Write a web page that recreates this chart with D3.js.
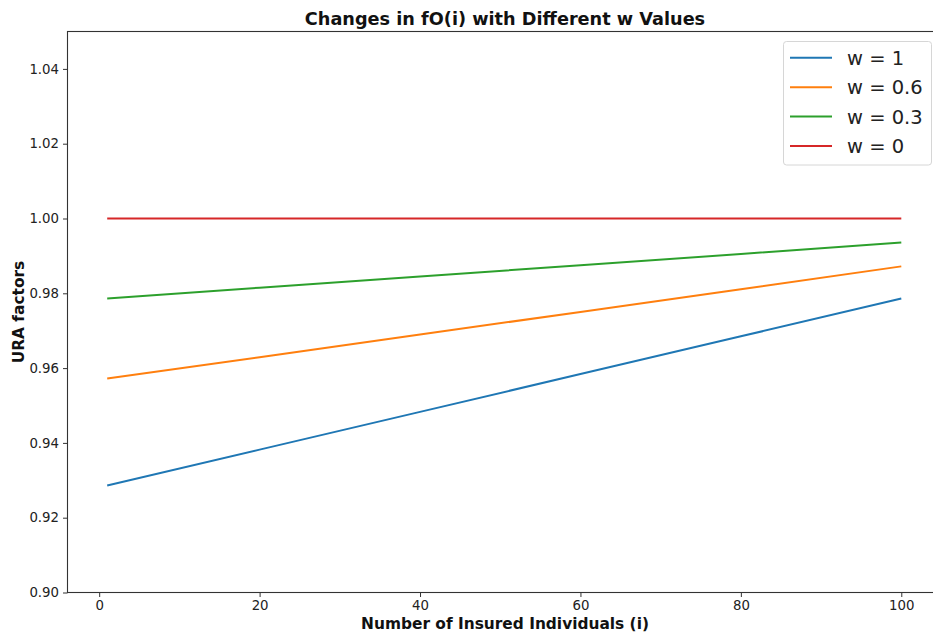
<!DOCTYPE html>
<html>
<head>
<meta charset="utf-8">
<script src="https://cdn.jsdelivr.net/npm/d3@7"></script>
<style>
  html, body { margin: 0; padding: 0; background: #fff; }
  svg { display: block; font-family: "DejaVu Sans", sans-serif; }
</style>
</head>
<body>
<svg id="chart" width="933" height="633"></svg>
<script>
// ---- data ----
const xValues = [1, 20, 40, 60, 80, 100];
const seriesNames = ["w = 1", "w = 0.6", "w = 0.3", "w = 0"];
const seriesW1  = [0.9286, 0.9382, 0.9483, 0.9584, 0.9685, 0.9786];
const seriesW06 = [0.9572, 0.9629, 0.9690, 0.9750, 0.9811, 0.9872];
const seriesW03 = [0.9786, 0.9815, 0.9845, 0.9875, 0.9905, 0.9936];
const seriesW0  = [1.0000, 1.0000, 1.0000, 1.0000, 1.0000, 1.0000];
const seriesColors = ["#1f77b4", "#ff7f0e", "#2ca02c", "#d62728"];
const xTicks = [0, 20, 40, 60, 80, 100];
const yTicks = [0.90, 0.92, 0.94, 0.96, 0.98, 1.00, 1.02, 1.04];
const xDomain = [-3.95, 104.95];
const yDomain = [0.90, 1.05];
const titleText = "Changes in fO(i) with Different w Values";
const xLabelText = "Number of Insured Individuals (i)";
const yLabelText = "URA factors";

const seriesValues = [seriesW1, seriesW06, seriesW03, seriesW0];

// ---- layout ----
const plot = { left: 67.5, top: 31.5, right: 941, bottom: 592.5 };
const svg = d3.select("#chart");

const x = d3.scaleLinear().domain(xDomain).range([plot.left, plot.right]);
const y = d3.scaleLinear().domain(yDomain).range([plot.bottom, plot.top]);

// axes
const xAxis = svg.append("g")
  .attr("transform", `translate(0,${plot.bottom})`)
  .call(d3.axisBottom(x).tickValues(xTicks).tickFormat(d3.format("d")).tickSize(4.5).tickPadding(4));
const yAxis = svg.append("g")
  .attr("transform", `translate(${plot.left},0)`)
  .call(d3.axisLeft(y).tickValues(yTicks).tickFormat(d3.format(".2f")).tickSize(4.5).tickPadding(4));

[xAxis, yAxis].forEach(g => {
  g.select(".domain").remove();
  g.selectAll(".tick line").attr("stroke", "#333").attr("stroke-width", 1);
  g.selectAll(".tick text").attr("fill", "#222").style("font-size", "13.3px").style("font-family", "DejaVu Sans");
});

// spines
svg.append("rect")
  .attr("x", plot.left).attr("y", plot.top)
  .attr("width", plot.right - plot.left).attr("height", plot.bottom - plot.top)
  .attr("fill", "none").attr("stroke", "#333").attr("stroke-width", 1.1);

// lines
const line = d3.line().x((d, i) => x(xValues[i])).y(d => y(d));
svg.append("g").selectAll("path")
  .data(seriesValues)
  .join("path")
  .attr("d", d => line(d))
  .attr("fill", "none")
  .attr("stroke", (d, i) => seriesColors[i])
  .attr("stroke-width", 2);

// title & labels
svg.append("text")
  .attr("x", 505).attr("y", 25)
  .attr("text-anchor", "middle")
  .style("font-weight", "bold").style("font-size", "17.7px")
  .attr("fill", "#111")
  .text(titleText);

svg.append("text")
  .attr("x", 505).attr("y", 628.5)
  .attr("text-anchor", "middle")
  .style("font-weight", "bold").style("font-size", "15.4px")
  .attr("fill", "#111")
  .text(xLabelText);

svg.append("text")
  .attr("transform", `translate(24,${(plot.top + plot.bottom) / 2}) rotate(-90)`)
  .attr("text-anchor", "middle")
  .style("font-weight", "bold").style("font-size", "15.4px")
  .attr("fill", "#111")
  .text(yLabelText);

// legend
const legend = svg.append("g");
legend.append("rect")
  .attr("x", 783.5).attr("y", 41.5)
  .attr("width", 148).attr("height", 123.5)
  .attr("rx", 3).attr("ry", 3)
  .attr("fill", "#fff").attr("fill-opacity", 0.8)
  .attr("stroke", "#d6d6d6").attr("stroke-width", 1);

const rowY = d3.scaleLinear().domain([0, 3]).range([57.7, 146]);
const items = legend.selectAll("g.item")
  .data(seriesNames)
  .join("g").attr("class", "item")
  .attr("transform", (d, i) => `translate(0,${rowY(i)})`);
items.append("line")
  .attr("x1", 790).attr("x2", 832)
  .attr("y1", 0).attr("y2", 0)
  .attr("stroke", (d, i) => seriesColors[i])
  .attr("stroke-width", 2);
items.append("text")
  .attr("x", 847).attr("y", 0)
  .attr("dy", "0.36em")
  .style("font-size", "19.5px")
  .attr("fill", "#222")
  .text(d => d);
</script>
</body>
</html>
